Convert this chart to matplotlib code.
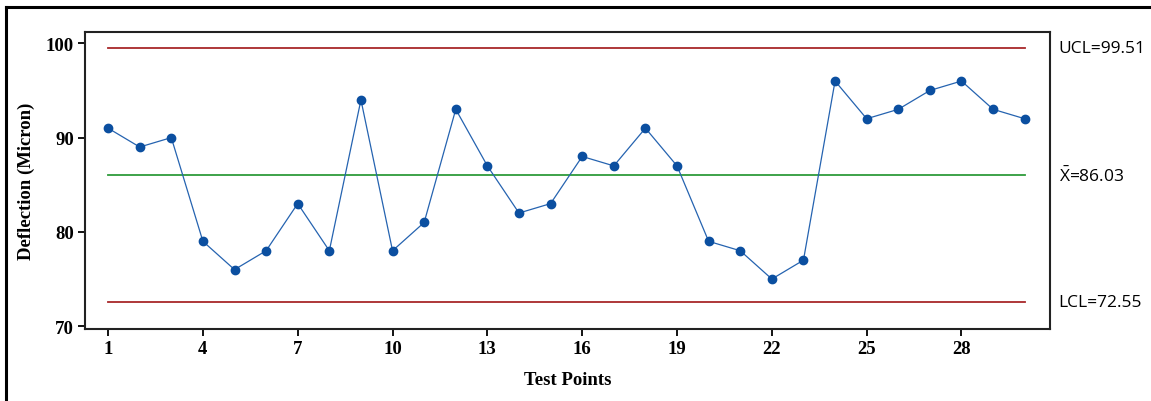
import matplotlib
matplotlib.use("Agg")
import matplotlib.pyplot as plt
from matplotlib.lines import Line2D

plt.rcParams["mathtext.fontset"] = "custom"
plt.rcParams["mathtext.rm"] = "Open Sans"

test_points = list(range(1, 31))
deflection = [91, 89, 90, 79, 76, 78, 83, 78, 94, 78,
              81, 93, 87, 82, 83, 88, 87, 91, 87, 79,
              78, 75, 77, 96, 92, 93, 95, 96, 93, 92]
ucl = 99.51
center = 86.03
lcl = 72.55
x_ticks = [1, 4, 7, 10, 13, 16, 19, 22, 25, 28]
y_ticks = [70, 80, 90, 100]

fig = plt.figure(figsize=(11.51, 4.02), dpi=100)
W, H = 1151, 402
ax = fig.add_axes([85 / W, 1 - 330 / H, (1050 - 85) / W, (330 - 33) / H])

ax.plot([test_points[0], test_points[-1]], [ucl, ucl], color="#A8282A", lw=1.3)
ax.plot([test_points[0], test_points[-1]], [lcl, lcl], color="#A8282A", lw=1.3)
ax.plot([test_points[0], test_points[-1]], [center, center], color="#2E9B3A", lw=1.3)
ax.plot(test_points, deflection, color="#2563B0", lw=0.9, marker="o",
        markersize=6, markerfacecolor="#0B4FA0", markeredgecolor="#0B4FA0")

ax.set_xlim(0.27, 30.8)
ax.set_ylim(69.7, 101.2)
ax.set_xticks(x_ticks)
ax.set_yticks(y_ticks)
serif = "Liberation Serif"
for lab in ax.get_xticklabels() + ax.get_yticklabels():
    lab.set_fontfamily(serif)
    lab.set_fontweight("bold")
    lab.set_fontsize(13.5)
ax.tick_params(direction="out", length=5, width=1.3, color="black", pad=3)
for s in ax.spines.values():
    s.set_linewidth(1.5)
    s.set_color("#222222")

ax.set_xlabel("Test Points", fontfamily=serif, fontweight="bold", fontsize=13.5, labelpad=10)
ax.set_ylabel("Deflection (Micron)", fontfamily=serif, fontweight="bold", fontsize=13.5, labelpad=8)

lab_font = dict(fontfamily=["Open Sans", "DejaVu Sans"], fontsize=12.5, va="center", ha="left",
                transform=ax.get_yaxis_transform(), clip_on=False)
ax.text(1.009, ucl, "UCL=99.51", **lab_font)
ax.text(1.009, center, r"$\bar{\mathrm{X}}$=86.03", **lab_font)
ax.text(1.009, lcl, "LCL=72.55", **lab_font)

# outer frame
fig.add_artist(Line2D([6 / W, 6 / W], [0, 1 - 8 / H], transform=fig.transFigure, color="black", lw=2.2))
fig.add_artist(Line2D([6 / W, 1], [1 - 8 / H, 1 - 8 / H], transform=fig.transFigure, color="black", lw=2.2))

fig.savefig("out.png", dpi=100)
